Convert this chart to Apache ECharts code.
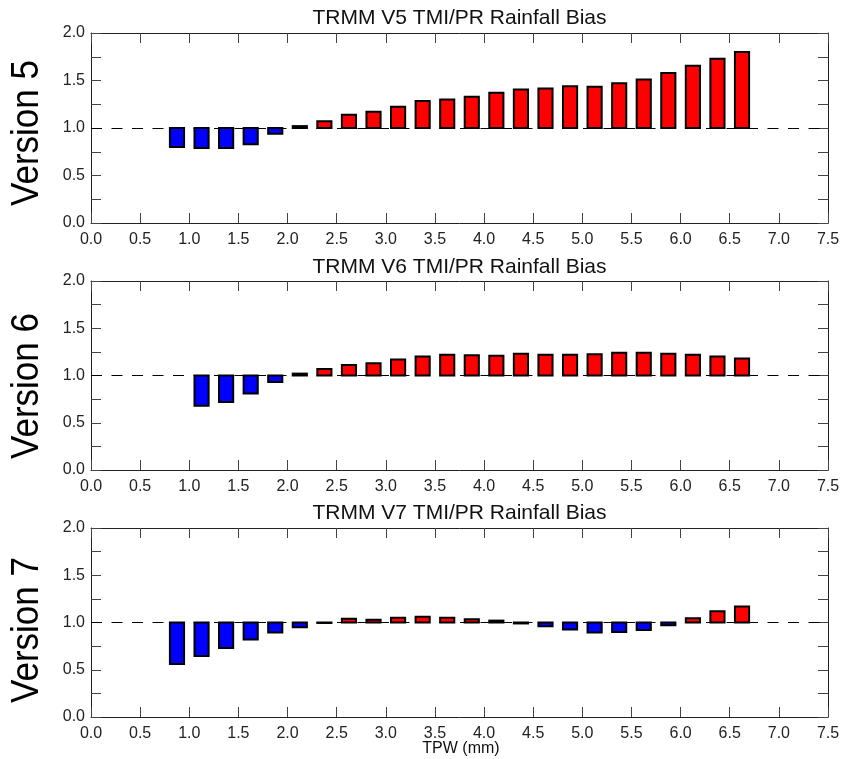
<!DOCTYPE html>
<html>
<head>
<meta charset="utf-8">
<script src="https://cdn.jsdelivr.net/npm/echarts@6/dist/echarts.min.js"></script>
<style>
html,body{margin:0;padding:0;background:#fff;}
#chart{width:844px;height:759px;}
</style>
</head>
<body>
<div id="chart"></div>
<script>
// TPW bin centres (mm)
var tpw = [0.875, 1.125, 1.375, 1.625, 1.875, 2.125, 2.375, 2.625, 2.875, 3.125, 3.375, 3.625,
           3.875, 4.125, 4.375, 4.625, 4.875, 5.125, 5.375, 5.625, 5.875, 6.125, 6.375, 6.625];
// TMI/PR rainfall bias per version
var v5 = [0.80, 0.79, 0.79, 0.83, 0.94, 1.02, 1.07, 1.14, 1.17, 1.225, 1.285, 1.30,
          1.33, 1.37, 1.405, 1.415, 1.44, 1.435, 1.47, 1.51, 1.58, 1.655, 1.73, 1.80];
var v6 = [null, 0.68, 0.72, 0.81, 0.93, 1.02, 1.07, 1.11, 1.13, 1.17, 1.20, 1.22,
          1.215, 1.21, 1.23, 1.22, 1.22, 1.225, 1.24, 1.24, 1.23, 1.22, 1.20, 1.18];
var v7 = [0.56, 0.645, 0.73, 0.82, 0.895, 0.95, 0.995, 1.04, 1.03, 1.05, 1.06, 1.05,
          1.035, 1.02, 0.99, 0.96, 0.925, 0.895, 0.90, 0.92, 0.97, 1.045, 1.12, 1.17];

var titles = ['TRMM V5 TMI/PR Rainfall Bias', 'TRMM V6 TMI/PR Rainfall Bias', 'TRMM V7 TMI/PR Rainfall Bias'];
var sideLabels = ['Version 5', 'Version 6', 'Version 7'];
var xLabel = 'TPW (mm)';
var baseline = 1.0;
var binHalf = 0.072;

var FONT = '"Liberation Sans", Helvetica, Arial, sans-serif';
var series = [v5, v6, v7];
var gridTops = [33, 281, 528];
var gridH = [190, 189, 189];
var titleY = [18, 267, 513];
var sideY = [133, 386, 630];

var chart = echarts.init(document.getElementById('chart'), null, {renderer: 'canvas'});

var grids = [], xAxes = [], yAxes = [], ser = [], graphics = [];
var axisColor = '#222';
for (var i = 0; i < 3; i++) {
  grids.push({left: 91, right: 16, top: gridTops[i], height: gridH[i], containLabel: false});
  // bottom x
  xAxes.push({
    type: 'value', gridIndex: i, position: 'bottom', min: 0, max: 7.5, interval: 0.5,
    axisLine: {show: true, onZero: false, lineStyle: {color: axisColor, width: 1}},
    axisTick: {show: true, inside: true, length: 10, lineStyle: {color: '#444'}},
    axisLabel: {show: true, margin: 9, color: '#222', fontSize: 16, fontFamily: FONT,
      formatter: function (v) { return v.toFixed(1); }},
    splitLine: {show: false}
  });
  // top x
  xAxes.push({
    type: 'value', gridIndex: i, position: 'top', min: 0, max: 7.5, interval: 0.5,
    axisLine: {show: true, onZero: false, lineStyle: {color: axisColor, width: 1}},
    axisTick: {show: true, inside: true, length: 10, lineStyle: {color: '#444'}},
    axisLabel: {show: false}, splitLine: {show: false}
  });
  // left y
  yAxes.push({
    type: 'value', gridIndex: i, position: 'left', min: 0, max: 2, interval: 0.25,
    axisLine: {show: true, onZero: false, lineStyle: {color: axisColor, width: 1}},
    axisTick: {show: true, inside: true, length: 10, lineStyle: {color: '#444'}},
    axisLabel: {show: true, margin: 6, color: '#222', fontSize: 16, fontFamily: FONT,
      formatter: function (v) { return (Math.abs(v * 2 - Math.round(v * 2)) < 1e-6) ? v.toFixed(1) : ''; }},
    splitLine: {show: false}
  });
  // right y
  yAxes.push({
    type: 'value', gridIndex: i, position: 'right', min: 0, max: 2, interval: 0.25,
    axisLine: {show: true, onZero: false, lineStyle: {color: axisColor, width: 1}},
    axisTick: {show: true, inside: true, length: 10, lineStyle: {color: '#444'}},
    axisLabel: {show: false}, splitLine: {show: false}
  });

  var data = [];
  for (var k = 0; k < tpw.length; k++) {
    if (series[i][k] != null) data.push([tpw[k], series[i][k]]);
  }
  ser.push({
    type: 'custom',
    xAxisIndex: i * 2,
    yAxisIndex: i * 2,
    data: data,
    encode: {x: 0, y: 1},
    animation: false,
    silent: true,
    z: 3,
    renderItem: function (params, api) {
      var x = api.value(0), v = api.value(1);
      var p0 = api.coord([x - binHalf, baseline]);
      var p1 = api.coord([x + binHalf, v]);
      var rx = Math.min(p0[0], p1[0]), ry = Math.min(p0[1], p1[1]);
      var w = Math.abs(p1[0] - p0[0]), h = Math.abs(p1[1] - p0[1]);
      return {
        type: 'rect',
        shape: {x: rx, y: ry, width: w, height: h},
        style: {fill: v >= baseline ? '#ff0000' : '#0000ff', stroke: '#000', lineWidth: 2}
      };
    },
    markLine: {
      silent: true, symbol: ['none', 'none'], animation: false,
      label: {show: false},
      lineStyle: {color: '#000', type: [11, 9.5], width: 1},
      data: [{yAxis: baseline}],
      z: 1
    }
  });

  graphics.push({
    type: 'text', x: 459.5, y: titleY[i], silent: true,
    style: {text: titles[i], fill: '#111', font: '21px ' + FONT, textAlign: 'center', textVerticalAlign: 'middle'}
  });
  graphics.push({
    type: 'text', x: 28, y: sideY[i], rotation: Math.PI / 2, scaleX: 0.92, silent: true,
    style: {text: sideLabels[i], fill: '#000', font: '38px ' + FONT, textAlign: 'center', textVerticalAlign: 'middle'}
  });
}
graphics.push({
  type: 'text', x: 461, y: 749, silent: true,
  style: {text: xLabel, fill: '#111', font: '16px ' + FONT, textAlign: 'center', textVerticalAlign: 'middle'}
});

chart.setOption({
  backgroundColor: '#fff',
  animation: false,
  grid: grids,
  xAxis: xAxes,
  yAxis: yAxes,
  series: ser,
  graphic: graphics
});
</script>
</body>
</html>
